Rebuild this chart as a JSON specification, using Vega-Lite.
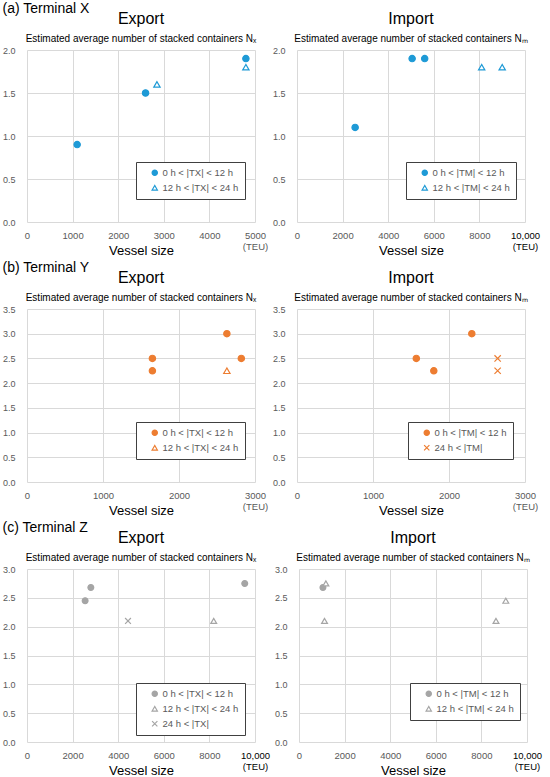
{
  "$schema": "https://vega.github.io/schema/vega-lite/v6.json",
  "padding": {"left": 2, "top": 2, "right": 1, "bottom": 0},
  "data": {
    "values": [
      {"terminal": "X", "flow": "Export", "size": 1100, "n": 0.9, "cat": "0 h < |TX| < 12 h"},
      {"terminal": "X", "flow": "Export", "size": 2600, "n": 1.5, "cat": "0 h < |TX| < 12 h"},
      {"terminal": "X", "flow": "Export", "size": 4800, "n": 1.9, "cat": "0 h < |TX| < 12 h"},
      {"terminal": "X", "flow": "Export", "size": 2850, "n": 1.6, "cat": "12 h < |TX| < 24 h"},
      {"terminal": "X", "flow": "Export", "size": 4800, "n": 1.8, "cat": "12 h < |TX| < 24 h"},
      {"terminal": "X", "flow": "Import", "size": 2550, "n": 1.1, "cat": "0 h < |TM| < 12 h"},
      {"terminal": "X", "flow": "Import", "size": 5050, "n": 1.9, "cat": "0 h < |TM| < 12 h"},
      {"terminal": "X", "flow": "Import", "size": 5600, "n": 1.9, "cat": "0 h < |TM| < 12 h"},
      {"terminal": "X", "flow": "Import", "size": 8100, "n": 1.8, "cat": "12 h < |TM| < 24 h"},
      {"terminal": "X", "flow": "Import", "size": 9000, "n": 1.8, "cat": "12 h < |TM| < 24 h"},
      {"terminal": "Y", "flow": "Export", "size": 1650, "n": 2.5, "cat": "0 h < |TX| < 12 h"},
      {"terminal": "Y", "flow": "Export", "size": 1650, "n": 2.25, "cat": "0 h < |TX| < 12 h"},
      {"terminal": "Y", "flow": "Export", "size": 2630, "n": 3.0, "cat": "0 h < |TX| < 12 h"},
      {"terminal": "Y", "flow": "Export", "size": 2820, "n": 2.5, "cat": "0 h < |TX| < 12 h"},
      {"terminal": "Y", "flow": "Export", "size": 2630, "n": 2.25, "cat": "12 h < |TX| < 24 h"},
      {"terminal": "Y", "flow": "Import", "size": 1570, "n": 2.5, "cat": "0 h < |TM| < 12 h"},
      {"terminal": "Y", "flow": "Import", "size": 1800, "n": 2.25, "cat": "0 h < |TM| < 12 h"},
      {"terminal": "Y", "flow": "Import", "size": 2300, "n": 3.0, "cat": "0 h < |TM| < 12 h"},
      {"terminal": "Y", "flow": "Import", "size": 2640, "n": 2.5, "cat": "24 h < |TM|"},
      {"terminal": "Y", "flow": "Import", "size": 2640, "n": 2.25, "cat": "24 h < |TM|"},
      {"terminal": "Z", "flow": "Export", "size": 2550, "n": 2.45, "cat": "0 h < |TX| < 12 h"},
      {"terminal": "Z", "flow": "Export", "size": 2800, "n": 2.68, "cat": "0 h < |TX| < 12 h"},
      {"terminal": "Z", "flow": "Export", "size": 9550, "n": 2.75, "cat": "0 h < |TX| < 12 h"},
      {"terminal": "Z", "flow": "Export", "size": 8190, "n": 2.1, "cat": "12 h < |TX| < 24 h"},
      {"terminal": "Z", "flow": "Export", "size": 4430, "n": 2.1, "cat": "24 h < |TX|"},
      {"terminal": "Z", "flow": "Import", "size": 1050, "n": 2.68, "cat": "0 h < |TM| < 12 h"},
      {"terminal": "Z", "flow": "Import", "size": 1180, "n": 2.75, "cat": "12 h < |TM| < 24 h"},
      {"terminal": "Z", "flow": "Import", "size": 1120, "n": 2.1, "cat": "12 h < |TM| < 24 h"},
      {"terminal": "Z", "flow": "Import", "size": 8640, "n": 2.1, "cat": "12 h < |TM| < 24 h"},
      {"terminal": "Z", "flow": "Import", "size": 9070, "n": 2.45, "cat": "12 h < |TM| < 24 h"}
    ]
  },
  "spacing": 4,
  "resolve": {"scale": {"shape": "independent", "fill": "independent"}, "legend": {"shape": "independent", "fill": "independent"}},
  "vconcat": [
    {
      "title": {"text": "(a) Terminal X", "anchor": "start", "fontSize": 14, "offset": -5, "frame": "bounds"},
      "spacing": 4,
      "resolve": {"scale": {"shape": "independent", "fill": "independent"}, "legend": {"shape": "independent", "fill": "independent"}},
      "hconcat": [
        {
          "width": 228, "height": 172,
          "title": {"text": "Export", "subtitle": "Estimated average number of stacked containers Nₓ"},
          "transform": [{"filter": "datum.terminal == 'X' && datum.flow == 'Export'"}],
          "mark": {"type": "point", "filled": false, "stroke": "#1e9ad6", "strokeWidth": 1.2, "size": 40, "opacity": 1},
          "encoding": {
            "x": {"field": "size", "type": "quantitative", "scale": {"domain": [0, 5000], "nice": false},
              "axis": {"values": [0, 1000, 2000, 3000, 4000, 5000], "format": "d", "title": "Vessel size", "labelExpr": "datum.value == 5000 ? ['5000', '(TEU)'] : datum.label"}},
            "y": {"field": "n", "type": "quantitative", "scale": {"domain": [0, 2], "nice": false},
              "axis": {"values": [0, 0.5, 1, 1.5, 2], "format": ".1f", "title": null}},
            "shape": {"field": "cat", "type": "nominal", "scale": {"domain": ["0 h < |TX| < 12 h", "12 h < |TX| < 24 h"], "range": ["circle", "triangle-up"]},
              "legend": {"title": null, "orient": "none", "legendX": 109, "legendY": 112, "encode": {"symbols": {"update": {"stroke": {"value": "#1e9ad6"}, "strokeWidth": {"value": 1.2}}}}}},
            "fill": {"field": "cat", "type": "nominal", "scale": {"domain": ["0 h < |TX| < 12 h", "12 h < |TX| < 24 h"], "range": ["#1e9ad6", "white"]},
              "legend": {"title": null, "orient": "none", "legendX": 109, "legendY": 112, "encode": {"symbols": {"update": {"stroke": {"value": "#1e9ad6"}, "strokeWidth": {"value": 1.2}}}}}}
          }
        },
        {
          "width": 228, "height": 172,
          "title": {"text": "Import", "subtitle": "Estimated average number of stacked containers Nₘ"},
          "transform": [{"filter": "datum.terminal == 'X' && datum.flow == 'Import'"}],
          "mark": {"type": "point", "filled": false, "stroke": "#1e9ad6", "strokeWidth": 1.2, "size": 40, "opacity": 1},
          "encoding": {
            "x": {"field": "size", "type": "quantitative", "scale": {"domain": [0, 10000], "nice": false},
              "axis": {"values": [0, 2000, 4000, 6000, 8000, 10000], "format": "d", "title": "Vessel size", "labelExpr": "datum.value == 10000 ? ['10,000', '(TEU)'] : datum.label",
                "labelColor": {"condition": {"test": "datum.value == 10000", "value": "black"}, "value": "#595959"}}},
            "y": {"field": "n", "type": "quantitative", "scale": {"domain": [0, 2], "nice": false},
              "axis": {"values": [0, 0.5, 1, 1.5, 2], "format": ".1f", "title": null}},
            "shape": {"field": "cat", "type": "nominal", "scale": {"domain": ["0 h < |TM| < 12 h", "12 h < |TM| < 24 h"], "range": ["circle", "triangle-up"]},
              "legend": {"title": null, "orient": "none", "legendX": 109, "legendY": 112, "encode": {"symbols": {"update": {"stroke": {"value": "#1e9ad6"}, "strokeWidth": {"value": 1.2}}}}}},
            "fill": {"field": "cat", "type": "nominal", "scale": {"domain": ["0 h < |TM| < 12 h", "12 h < |TM| < 24 h"], "range": ["#1e9ad6", "white"]},
              "legend": {"title": null, "orient": "none", "legendX": 109, "legendY": 112, "encode": {"symbols": {"update": {"stroke": {"value": "#1e9ad6"}, "strokeWidth": {"value": 1.2}}}}}}
          }
        }
      ]
    },
    {
      "title": {"text": "(b) Terminal Y", "anchor": "start", "fontSize": 14, "offset": -5, "frame": "bounds"},
      "spacing": 4,
      "resolve": {"scale": {"shape": "independent", "fill": "independent"}, "legend": {"shape": "independent", "fill": "independent"}},
      "hconcat": [
        {
          "width": 228, "height": 173,
          "title": {"text": "Export", "subtitle": "Estimated average number of stacked containers Nₓ"},
          "transform": [{"filter": "datum.terminal == 'Y' && datum.flow == 'Export'"}],
          "mark": {"type": "point", "filled": false, "stroke": "#ed7d31", "strokeWidth": 1.2, "size": 40, "opacity": 1},
          "encoding": {
            "x": {"field": "size", "type": "quantitative", "scale": {"domain": [0, 3000], "nice": false},
              "axis": {"values": [0, 1000, 2000, 3000], "format": "d", "title": "Vessel size", "labelExpr": "datum.value == 3000 ? ['3000', '(TEU)'] : datum.label"}},
            "y": {"field": "n", "type": "quantitative", "scale": {"domain": [0, 3.5], "nice": false},
              "axis": {"values": [0, 0.5, 1, 1.5, 2, 2.5, 3, 3.5], "format": ".1f", "title": null}},
            "shape": {"field": "cat", "type": "nominal", "scale": {"domain": ["0 h < |TX| < 12 h", "12 h < |TX| < 24 h"], "range": ["circle", "triangle-up"]},
              "legend": {"title": null, "orient": "none", "legendX": 109, "legendY": 113, "encode": {"symbols": {"update": {"stroke": {"value": "#ed7d31"}, "strokeWidth": {"value": 1.2}}}}}},
            "fill": {"field": "cat", "type": "nominal", "scale": {"domain": ["0 h < |TX| < 12 h", "12 h < |TX| < 24 h"], "range": ["#ed7d31", "white"]},
              "legend": {"title": null, "orient": "none", "legendX": 109, "legendY": 113, "encode": {"symbols": {"update": {"stroke": {"value": "#ed7d31"}, "strokeWidth": {"value": 1.2}}}}}}
          }
        },
        {
          "width": 228, "height": 173,
          "title": {"text": "Import", "subtitle": "Estimated average number of stacked containers Nₘ"},
          "transform": [{"filter": "datum.terminal == 'Y' && datum.flow == 'Import'"}],
          "mark": {"type": "point", "filled": false, "stroke": "#ed7d31", "strokeWidth": 1.2, "size": 40, "opacity": 1},
          "encoding": {
            "x": {"field": "size", "type": "quantitative", "scale": {"domain": [0, 3000], "nice": false},
              "axis": {"values": [0, 1000, 2000, 3000], "format": "d", "title": "Vessel size", "labelExpr": "datum.value == 3000 ? ['3000', '(TEU)'] : datum.label"}},
            "y": {"field": "n", "type": "quantitative", "scale": {"domain": [0, 3.5], "nice": false},
              "axis": {"values": [0, 0.5, 1, 1.5, 2, 2.5, 3, 3.5], "format": ".1f", "title": null}},
            "shape": {"field": "cat", "type": "nominal", "scale": {"domain": ["0 h < |TM| < 12 h", "24 h < |TM|"], "range": ["circle", "M-1,-1L1,1M1,-1L-1,1"]},
              "legend": {"title": null, "orient": "none", "legendX": 111, "legendY": 113, "encode": {"symbols": {"update": {"stroke": {"value": "#ed7d31"}, "strokeWidth": {"value": 1.2}}}}}},
            "fill": {"field": "cat", "type": "nominal", "scale": {"domain": ["0 h < |TM| < 12 h", "24 h < |TM|"], "range": ["#ed7d31", "white"]},
              "legend": {"title": null, "orient": "none", "legendX": 111, "legendY": 113, "encode": {"symbols": {"update": {"stroke": {"value": "#ed7d31"}, "strokeWidth": {"value": 1.2}}}}}}
          }
        }
      ]
    },
    {
      "title": {"text": "(c) Terminal Z", "anchor": "start", "fontSize": 14, "offset": -5, "frame": "bounds"},
      "spacing": 4,
      "resolve": {"scale": {"shape": "independent", "fill": "independent"}, "legend": {"shape": "independent", "fill": "independent"}},
      "hconcat": [
        {
          "width": 228, "height": 173,
          "title": {"text": "Export", "subtitle": "Estimated average number of stacked containers Nₓ"},
          "transform": [{"filter": "datum.terminal == 'Z' && datum.flow == 'Export'"}],
          "mark": {"type": "point", "filled": false, "stroke": "#a5a5a5", "strokeWidth": 1.2, "size": 34, "opacity": 1},
          "encoding": {
            "x": {"field": "size", "type": "quantitative", "scale": {"domain": [0, 10000], "nice": false},
              "axis": {"values": [0, 2000, 4000, 6000, 8000, 10000], "format": "d", "title": "Vessel size", "labelExpr": "datum.value == 10000 ? ['10,000', '(TEU)'] : datum.label",
                "labelColor": {"condition": {"test": "datum.value == 10000", "value": "black"}, "value": "#595959"}}},
            "y": {"field": "n", "type": "quantitative", "scale": {"domain": [0, 3], "nice": false},
              "axis": {"values": [0, 0.5, 1, 1.5, 2, 2.5, 3], "format": ".1f", "title": null}},
            "shape": {"field": "cat", "type": "nominal", "scale": {"domain": ["0 h < |TX| < 12 h", "12 h < |TX| < 24 h", "24 h < |TX|"], "range": ["circle", "triangle-up", "M-1,-1L1,1M1,-1L-1,1"]},
              "legend": {"title": null, "orient": "none", "legendX": 109, "legendY": 114, "encode": {"symbols": {"update": {"stroke": {"value": "#a5a5a5"}, "strokeWidth": {"value": 1.2}}}}}},
            "fill": {"field": "cat", "type": "nominal", "scale": {"domain": ["0 h < |TX| < 12 h", "12 h < |TX| < 24 h", "24 h < |TX|"], "range": ["#a5a5a5", "white", "white"]},
              "legend": {"title": null, "orient": "none", "legendX": 109, "legendY": 114, "encode": {"symbols": {"update": {"stroke": {"value": "#a5a5a5"}, "strokeWidth": {"value": 1.2}}}}}}
          }
        },
        {
          "width": 228, "height": 173,
          "title": {"text": "Import", "subtitle": "Estimated average number of stacked containers Nₘ"},
          "transform": [{"filter": "datum.terminal == 'Z' && datum.flow == 'Import'"}],
          "mark": {"type": "point", "filled": false, "stroke": "#a5a5a5", "strokeWidth": 1.2, "size": 34, "opacity": 1},
          "encoding": {
            "x": {"field": "size", "type": "quantitative", "scale": {"domain": [0, 10000], "nice": false},
              "axis": {"values": [0, 2000, 4000, 6000, 8000, 10000], "format": "d", "title": "Vessel size", "labelExpr": "datum.value == 10000 ? ['10,000', '(TEU)'] : datum.label",
                "labelColor": {"condition": {"test": "datum.value == 10000", "value": "black"}, "value": "#595959"}}},
            "y": {"field": "n", "type": "quantitative", "scale": {"domain": [0, 3], "nice": false},
              "axis": {"values": [0, 0.5, 1, 1.5, 2, 2.5, 3], "format": ".1f", "title": null}},
            "shape": {"field": "cat", "type": "nominal", "scale": {"domain": ["0 h < |TM| < 12 h", "12 h < |TM| < 24 h"], "range": ["circle", "triangle-up"]},
              "legend": {"title": null, "orient": "none", "legendX": 111, "legendY": 114, "encode": {"symbols": {"update": {"stroke": {"value": "#a5a5a5"}, "strokeWidth": {"value": 1.2}}}}}},
            "fill": {"field": "cat", "type": "nominal", "scale": {"domain": ["0 h < |TM| < 12 h", "12 h < |TM| < 24 h"], "range": ["#a5a5a5", "white"]},
              "legend": {"title": null, "orient": "none", "legendX": 111, "legendY": 114, "encode": {"symbols": {"update": {"stroke": {"value": "#a5a5a5"}, "strokeWidth": {"value": 1.2}}}}}}
          }
        }
      ]
    }
  ],
  "config": {
    "font": "Liberation Sans",
    "view": {"stroke": null},
    "axis": {
      "grid": true, "gridColor": "#d9d9d9", "gridWidth": 1, "domain": false, "ticks": false,
      "labelColor": "#595959", "labelFontSize": 9.5, "labelFont": "Liberation Sans",
      "titleFontSize": 13, "titleFontWeight": "normal", "titleColor": "black", "titleFont": "Liberation Sans"
    },
    "axisY": {"labelPadding": 12, "labelFontSize": 9},
    "axisX": {"labelPadding": 8, "titleY": 22, "titleBaseline": "top", "labelFlush": false, "labelOverlap": false},
    "title": {
      "fontSize": 16, "fontWeight": "normal", "color": "black", "anchor": "middle", "frame": "group", "offset": 2,
      "subtitleFontSize": 10, "subtitleColor": "black", "subtitlePadding": 7
    },
    "legend": {
      "padding": 6, "strokeColor": "#404040", "strokeWidth": 1, "fillColor": "white",
      "labelFontSize": 9.5, "labelColor": "#595959", "symbolSize": 28, "symbolStrokeWidth": 1.2,
      "rowPadding": 4, "symbolOffset": 8, "labelOffset": 3
    }
  }
}
